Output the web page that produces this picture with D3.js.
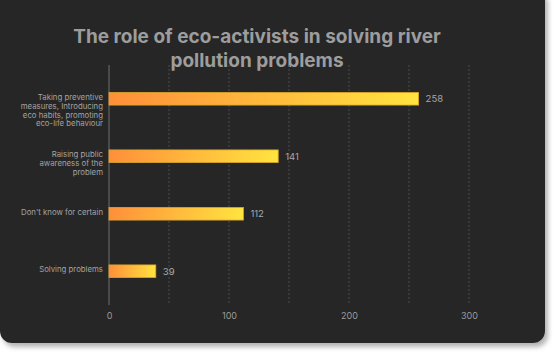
<!DOCTYPE html>
<html>
<head>
<meta charset="utf-8">
<script src="https://cdn.jsdelivr.net/npm/d3@7"></script>
<style>
  body { margin: 0; background: #ffffff; }
  svg { display: block; font-family: Inter, "Noto Sans", sans-serif; }
</style>
</head>
<body>
<script>
// données du graphique
const categories = [
  "Taking preventive measures, Introducing eco habits, promoting eco-life behaviour",
  "Raising public awareness of the problem",
  "Don't know for certain",
  "Solving problems"
]
const labelLines = [
  ["Taking preventive", "measures, Introducing", "eco habits, promoting", "eco-life behaviour"],
  ["Raising public", "awareness of the", "problem"],
  ["Don't know for certain"],
  ["Solving problems"]
]
const values = [258, 141, 112, 39]
const xTicks = [0, 100, 200, 300]
const gridTicks = [50, 100, 150, 200, 250, 300]
const titleLines = ["The role of eco-activists in solving river", "pollution problems"]

const width = 555
const height = 354
const margin = { top: 65, bottom: 49, left: 109, right: 86 }

const svg = d3.select("body")
  .append("svg")
  .attr("width", width)
  .attr("height", height)

const defs = svg.append("defs")

// ombre de la carte
const shadow = defs.append("filter").attr("id", "shadow")
  .attr("x", "-5%").attr("y", "-5%").attr("width", "115%").attr("height", "115%")
shadow.append("feDropShadow")
  .attr("dx", 3).attr("dy", 4).attr("stdDeviation", 2.5)
  .attr("flood-color", "#000").attr("flood-opacity", 0.3)

// dégradé orange -> jaune des barres
const grad = defs.append("linearGradient").attr("id", "barGrad")
  .attr("x1", "0%").attr("x2", "100%").attr("y1", "0%").attr("y2", "0%")
grad.append("stop").attr("offset", "0%").attr("stop-color", "#ff8f3a")
grad.append("stop").attr("offset", "100%").attr("stop-color", "#ffe43f")

svg.append("rect")
  .attr("x", 0).attr("y", -12)
  .attr("width", 545).attr("height", 355)
  .attr("rx", 12)
  .attr("fill", "#282828")
  .attr("filter", "url(#shadow)")

// titre
svg.append("g").selectAll("text")
  .data(titleLines)
  .enter()
  .append("text")
  .attr("x", 257)
  .attr("y", (d, i) => 43 + i * 24)
  .attr("text-anchor", "middle")
  .attr("font-size", "19px")
  .attr("font-weight", 700)
  .attr("fill", "#9d9d9d")
  .text(d => d)

const x = d3.scaleLinear()
  .domain([0, 300])
  .range([margin.left, width - margin.right])

const y = d3.scaleBand()
  .domain(categories)
  .range([70, 300])
  .paddingInner(0.78)
  .paddingOuter(0.39)

// grille pointillée
svg.append("g").selectAll("line")
  .data(gridTicks)
  .enter()
  .append("line")
  .attr("x1", d => x(d)).attr("x2", d => x(d))
  .attr("y1", margin.top).attr("y2", height - margin.bottom)
  .attr("stroke", "#4a4a4a")
  .attr("stroke-width", 1)
  .attr("stroke-dasharray", "2,2")

// axe vertical
svg.append("line")
  .attr("x1", x(0)).attr("x2", x(0))
  .attr("y1", margin.top).attr("y2", height - margin.bottom)
  .attr("stroke", "#6e6e6e")
  .attr("stroke-width", 1)

// axe x (labels seulement)
const xAxis = svg.append("g")
  .attr("transform", "translate(0," + (height - margin.bottom) + ")")
  .call(d3.axisBottom(x).tickValues(xTicks).tickSize(0).tickPadding(8))
xAxis.select(".domain").remove()
xAxis.selectAll("text")
  .attr("fill", "#9a9a9a")
  .attr("font-size", "9px")
  .attr("font-family", "Inter, sans-serif")

// barres
svg.append("g").selectAll("rect")
  .data(values)
  .enter()
  .append("rect")
  .attr("x", x(0))
  .attr("y", (d, i) => y(categories[i]))
  .attr("width", d => x(d) - x(0))
  .attr("height", y.bandwidth())
  .attr("fill", "url(#barGrad)")
  .attr("stroke", "#d9a52a")
  .attr("stroke-width", 0.8)

// valeurs
svg.append("g").selectAll("text")
  .data(values)
  .enter()
  .append("text")
  .attr("x", d => x(d) + 7)
  .attr("y", (d, i) => y(categories[i]) + y.bandwidth() / 2)
  .attr("dy", "0.35em")
  .attr("font-size", "9.5px")
  .attr("fill", "#a8a8a8")
  .text(d => d)

// labels des catégories
const catG = svg.append("g")
categories.forEach((c, i) => {
  const t = catG.append("text")
    .attr("x", x(0) - 6)
    .attr("y", y(c) + y.bandwidth() / 2 - 1.5)
    .attr("text-anchor", "end")
    .attr("font-size", "7.8px")
    .attr("fill", "#a3a3a3")
  labelLines[i].forEach((l, j) => {
    t.append("tspan")
      .attr("x", x(0) - 6)
      .attr("dy", j === 0 ? "0.35em" : "1.13em")
      .text(l)
  })
})
</script>
</body>
</html>
